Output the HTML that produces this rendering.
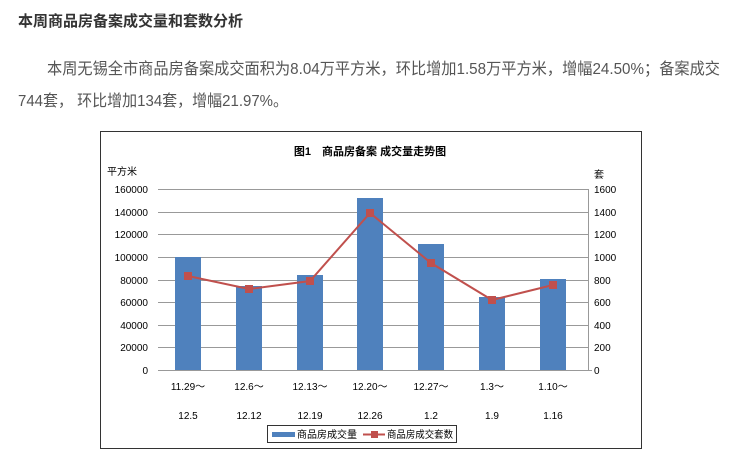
<!DOCTYPE html>
<html><head><meta charset="utf-8"><style>
html,body{margin:0;padding:0;background:#fff;width:740px;height:469px;overflow:hidden}
svg{display:block}
text{font-family:"Liberation Sans","Noto Sans CJK SC",sans-serif}
</style></head><body>
<svg width="740" height="469" xmlns="http://www.w3.org/2000/svg">
<text x="18" y="26" font-size="15" font-weight="bold" fill="#333" textLength="225" lengthAdjust="spacingAndGlyphs">本周商品房备案成交量和套数分析</text>
<text x="47" y="74" font-size="16" fill="#555" textLength="673" lengthAdjust="spacingAndGlyphs">本周无锡全市商品房备案成交面积为8.04万平方米，环比增加1.58万平方米，增幅24.50%；备案成交</text>
<text x="18" y="106" font-size="16" fill="#555" textLength="270" lengthAdjust="spacingAndGlyphs">744套， 环比增加134套，增幅21.97%。</text>
<rect x="100.5" y="131.5" width="541" height="317" fill="#fff" stroke="#333" stroke-width="1"/>
<text x="370" y="155" font-size="11" font-weight="bold" text-anchor="middle" fill="#000" font-family="'Noto Serif CJK SC',serif">图1　商品房备案 成交量走势图</text>
<text x="107" y="175" font-size="10" fill="#000">平方米</text>
<text x="594" y="178" font-size="10" fill="#000">套</text>
<g stroke="#999" stroke-width="1">
<line x1="158" y1="189.5" x2="588" y2="189.5"/>
<line x1="158" y1="212.5" x2="588" y2="212.5"/>
<line x1="158" y1="234.5" x2="588" y2="234.5"/>
<line x1="158" y1="257.5" x2="588" y2="257.5"/>
<line x1="158" y1="280.5" x2="588" y2="280.5"/>
<line x1="158" y1="302.5" x2="588" y2="302.5"/>
<line x1="158" y1="325.5" x2="588" y2="325.5"/>
<line x1="158" y1="347.5" x2="588" y2="347.5"/>
<line x1="158" y1="370.5" x2="592" y2="370.5"/>
<line x1="588.5" y1="189" x2="588.5" y2="370"/>
</g>
<g font-size="10" fill="#000" text-anchor="end">
<text x="148" y="193">160000</text><text x="148" y="216">140000</text><text x="148" y="238">120000</text><text x="148" y="261">100000</text><text x="148" y="284">80000</text><text x="148" y="306">60000</text><text x="148" y="329">40000</text><text x="148" y="351">20000</text><text x="148" y="374">0</text>
</g>
<g font-size="10" fill="#000">
<text x="594" y="193">1600</text><text x="594" y="216">1400</text><text x="594" y="238">1200</text><text x="594" y="261">1000</text><text x="594" y="284">800</text><text x="594" y="306">600</text><text x="594" y="329">400</text><text x="594" y="351">200</text><text x="594" y="374">0</text>
</g>
<g fill="#4f81bd">
<rect x="175" y="257" width="26" height="113"/>
<rect x="236" y="286" width="26" height="84"/>
<rect x="297" y="275" width="26" height="95"/>
<rect x="357" y="198" width="26" height="172"/>
<rect x="418" y="244" width="26" height="126"/>
<rect x="479" y="297" width="26" height="73"/>
<rect x="540" y="279" width="26" height="91"/>
</g>
<polyline points="188,276 249,289 310,281 370,213 431,263 492,300 553,285" fill="none" stroke="#c0504d" stroke-width="2"/>
<g fill="#c0504d">
<rect x="184" y="272" width="8" height="8"/><rect x="245" y="285" width="8" height="8"/><rect x="306" y="277" width="8" height="8"/><rect x="366" y="209" width="8" height="8"/><rect x="427" y="259" width="8" height="8"/><rect x="488" y="296" width="8" height="8"/><rect x="549" y="281" width="8" height="8"/>
</g>
<g font-size="10" fill="#000" text-anchor="middle">
<text x="188" y="390">11.29～</text><text x="249" y="390">12.6～</text><text x="310" y="390">12.13～</text><text x="370" y="390">12.20～</text><text x="431" y="390">12.27～</text><text x="492" y="390">1.3～</text><text x="553" y="390">1.10～</text>
<text x="188" y="419">12.5</text><text x="249" y="419">12.12</text><text x="310" y="419">12.19</text><text x="370" y="419">12.26</text><text x="431" y="419">1.2</text><text x="492" y="419">1.9</text><text x="553" y="419">1.16</text>
</g>
<rect x="267.5" y="425.5" width="189" height="17" fill="#fff" stroke="#333"/>
<rect x="272" y="432" width="23" height="5" fill="#4f81bd"/>
<text x="297" y="438" font-size="10" fill="#000" textLength="60" lengthAdjust="spacingAndGlyphs">商品房成交量</text>
<line x1="363" y1="434.5" x2="385" y2="434.5" stroke="#c0504d" stroke-width="2"/>
<rect x="371" y="431" width="7" height="7" fill="#c0504d"/>
<text x="387" y="438" font-size="10" fill="#000" textLength="66" lengthAdjust="spacingAndGlyphs">商品房成交套数</text>
</svg>
</body></html>
